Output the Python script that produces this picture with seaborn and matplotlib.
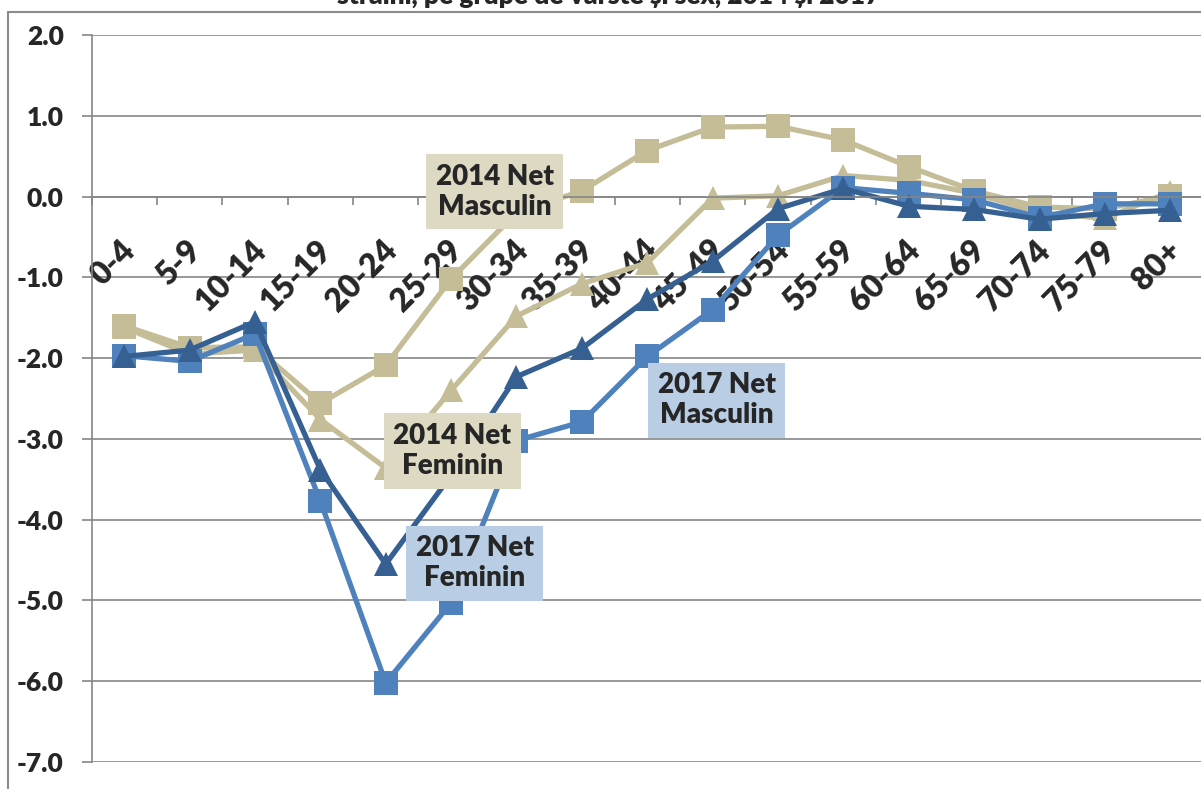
import numpy as np
import pandas as pd
import seaborn as sns
import matplotlib.pyplot as plt
from matplotlib.patches import Rectangle
from matplotlib.ticker import FixedLocator
from matplotlib.transforms import ScaledTranslation

# Age groups on the x axis
age_groups = ['0-4', '5-9', '10-14', '15-19', '20-24', '25-29', '30-34', '35-39',
              '40-44', '45-49', '50-54', '55-59', '60-64', '65-69', '70-74',
              '75-79', '80+']

# Net values
net_2014_feminin = [-1.62, -1.95, -1.90, -2.76, -3.36, -2.40, -1.48, -1.08, -0.82,
                    -0.02, 0.01, 0.26, 0.20, 0.04, -0.20, -0.27, 0.06]
net_2014_masculin = [-1.60, -1.87, -1.86, -2.56, -2.09, -1.02, -0.20, 0.07, 0.57,
                     0.86, 0.87, 0.70, 0.37, 0.07, -0.13, -0.15, 0.01]
net_2017_masculin = [-1.97, -2.04, -1.70, -3.77, -6.02, -5.03, -3.02, -2.79, -1.98,
                     -1.40, -0.48, 0.11, 0.04, -0.04, -0.26, -0.09, -0.09]
net_2017_feminin = [-1.98, -1.90, -1.55, -3.38, -4.55, -3.45, -2.23, -1.88, -1.27,
                    -0.80, -0.15, 0.10, -0.12, -0.16, -0.28, -0.21, -0.17]

series_names = ['2014 Net Feminin', '2014 Net Masculin', '2017 Net Masculin', '2017 Net Feminin']
series_values = [net_2014_feminin, net_2014_masculin, net_2017_masculin, net_2017_feminin]
y_ticks = [2, 1, 0, -1, -2, -3, -4, -5, -6, -7]
title = 'străini, pe grupe de vârste și sex, 2014 și 2017'

# Long table for seaborn
rows = []
for name, vals in zip(series_names, series_values):
    for i, v in enumerate(vals):
        rows.append({'x': i, 'val': v, 'series': name})
df = pd.DataFrame(rows)

palette = {'2014 Net Feminin': '#C4BD97', '2014 Net Masculin': '#C4BD97',
           '2017 Net Masculin': '#4F81BD', '2017 Net Feminin': '#376092'}
markers = {'2014 Net Feminin': '^', '2014 Net Masculin': 's',
           '2017 Net Masculin': 's', '2017 Net Feminin': '^'}

sns.set_style('white')
plt.rcParams['font.family'] = ['Lato', 'DejaVu Sans']
plt.rcParams['font.weight'] = 'bold'

fig = plt.figure(figsize=(12.01, 7.89), dpi=100)
ax = fig.add_axes([91.5 / 1201, 27 / 789, (1203 - 91.5) / 1201, 727 / 789])

sns.lineplot(data=df, x='x', y='val', hue='series', style='series',
             hue_order=series_names, style_order=series_names,
             palette=palette, markers=markers, dashes=False,
             linewidth=3.8, markersize=17, markeredgewidth=0,
             legend=False, sort=False, ax=ax)

grey = '#868686'
ax.set_xlim(-0.5, len(age_groups) - 0.5)
ax.set_ylim(-7, 2)
ax.set_xlabel('')
ax.set_ylabel('')

# y axis
ax.set_yticks(y_ticks)
ax.set_yticklabels([f'{t:.1f}' for t in y_ticks], fontsize=19, fontweight='heavy')
ax.yaxis.grid(True, color=grey, linewidth=1.2)
ax.set_axisbelow(True)
ax.tick_params(axis='y', direction='out', length=7, width=1.2, color=grey, pad=13, left=True)

# x axis sits on zero
ax.spines['bottom'].set_position(('data', 0))
ax.spines['bottom'].set_color(grey)
ax.spines['bottom'].set_linewidth(1.2)
ax.spines['left'].set_color(grey)
ax.spines['left'].set_linewidth(1.2)
ax.spines['top'].set_visible(False)
ax.spines['right'].set_visible(False)

# boundary tick marks, category labels drawn as rotated text under the axis
ax.set_xticks([])
ax.xaxis.set_minor_locator(FixedLocator(np.arange(len(age_groups) + 1) - 0.5))
ax.tick_params(axis='x', which='minor', direction='out', length=6, width=1.2,
               color=grey, bottom=True)
lab_shift = ax.transData + ScaledTranslation(9.5 / 72, -40 / 72, fig.dpi_scale_trans)
for i, g in enumerate(age_groups):
    ax.text(i, 0, g, transform=lab_shift, rotation=45, rotation_mode='anchor',
            ha='right', va='baseline', fontsize=23, fontweight='heavy', zorder=1)

# series labels
label_pos = {'2014 Net Masculin': (5.67, 0.06, '#DDD9C3'),
             '2014 Net Feminin': (5.02, -3.15, '#DDD9C3'),
             '2017 Net Feminin': (5.36, -4.54, '#B9CDE5'),
             '2017 Net Masculin': (9.06, -2.52, '#B9CDE5')}
for name, (lx, ly, fc) in label_pos.items():
    txt = name.replace(' Net ', ' Net\n')
    ax.text(lx, ly, txt, ha='center', va='center', fontsize=20, fontweight='heavy',
            multialignment='center', linespacing=1.2, zorder=10,
            bbox=dict(boxstyle='square,pad=0.34', fc=fc, ec='none'))

# chart border and clipped title
fig.patches.append(Rectangle((8 / 1201, -0.05), 1.2, 1 - 12 / 789 + 0.05,
                             transform=fig.transFigure, fill=False,
                             ec='#8c8c8c', lw=1.5))
fig.text(0.507, 1 - 4 / 789, title, ha='center', va='baseline',
         fontsize=19, fontweight='heavy')

fig.savefig('out.png', dpi=100)
